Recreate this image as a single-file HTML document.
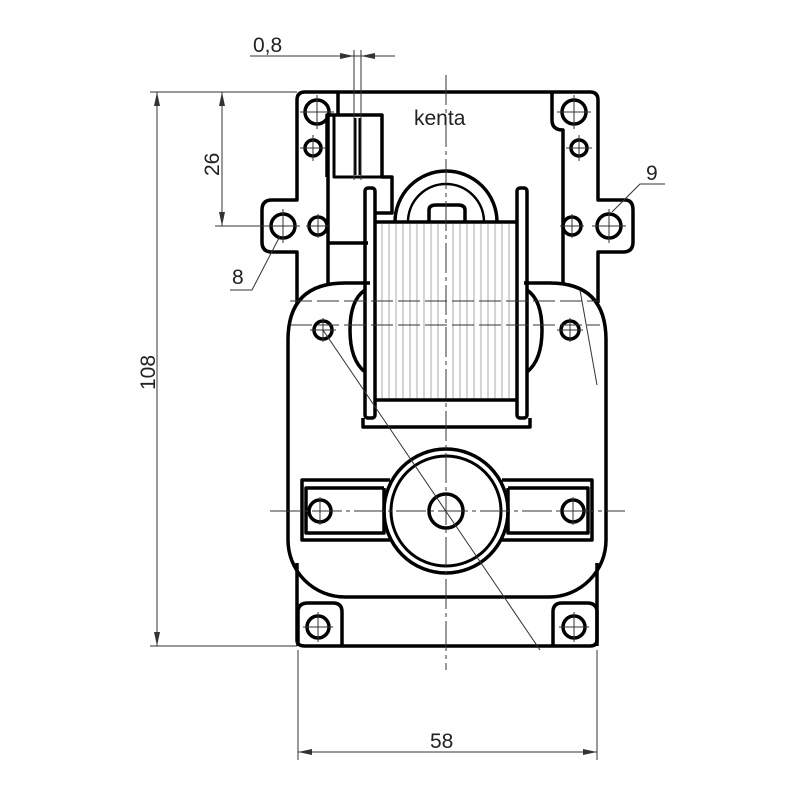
<!DOCTYPE html>
<html><head><style>body{margin:0;background:#fff}svg{display:block}</style></head><body>
<svg width="800" height="800" viewBox="0 0 800 800" xmlns="http://www.w3.org/2000/svg" font-family="Liberation Sans, sans-serif">
<g fill="none" stroke="#000" stroke-width="3.5" stroke-linejoin="round">
<!-- top plate -->
<path d="M305 92 H590 Q598 92 598 100 V200 H625 Q633 200 633 210 V242 Q633 252 623 252 H598 V303"/>
<path d="M297 303 V252 H272 Q262 252 262 242 V210 Q262 200 272 200 H297 V100 Q297 92 305 92"/>
<path d="M338 92 V115"/>
<path d="M552 92 V120 Q552 130 563 130 V283"/>
<path d="M328 115 V283"/>
<!-- connector -->
<path d="M327 177 V115 H382 V177 H392 V213 H375"/>
<path d="M334 115 V177 H382" stroke-width="3"/>
<path d="M355 118 V175 M360 118 V175" stroke-width="3"/>
<path d="M328 243 H368"/>
<!-- holes top -->
<circle cx="317" cy="112" r="12"/><circle cx="574" cy="112" r="12"/>
<circle cx="313" cy="148" r="8"/><circle cx="579" cy="148" r="8"/>
<circle cx="283" cy="226" r="12"/><circle cx="318" cy="226" r="9"/>
<circle cx="572" cy="226" r="9"/><circle cx="609" cy="226" r="12"/>
<!-- housing -->
<path d="M288 540 V340 Q288 283 345 283 H370 M524 283 H550 Q606 283 606 340 V540 A57 57 0 0 1 549 597 H345 A57 57 0 0 1 288 540"/>
<path d="M297 563 V640 Q297 646 305 646 H590 Q597 646 597 640 V563"/>
<path d="M298 646 V612 Q298 603 308 603 H333 Q342 603 342 612 V646 M597 646 V612 Q597 603 587 603 H562 Q553 603 553 612 V646"/>
<circle cx="318" cy="627" r="11"/><circle cx="574" cy="627" r="11"/>
<path d="M365 290 Q350 300 350 330 Q350 360 365 372 M527 290 Q542 300 542 330 Q542 360 527 372"/>
<circle cx="323" cy="330" r="9"/><circle cx="570" cy="330" r="9"/>
<!-- coil -->
<rect x="365" y="188" width="10" height="230" rx="3"/><rect x="517" y="188" width="10" height="230" rx="3"/>
<path d="M376 222 H517 M376 400 H517"/>
<path d="M363 418 V427 H530 V418"/>
<path d="M395 222 A51 51 0 0 1 497 222"/>
<path d="M408 222 A38 38 0 0 1 484 222" stroke-width="2.5"/>
<path d="M429 221 V210 Q429 205 436 205 H458 Q465 205 465 210 V221"/>
<!-- gear center -->
<circle cx="446" cy="511" r="62"/><circle cx="446" cy="511" r="55" stroke-width="3"/>
<circle cx="446" cy="511" r="17"/>
<path d="M390 480 H302 V540 H390 M384 488 H306 V533 H384 V488"/>
<path d="M502 480 H592 V540 H502 M508 488 H588 V533 H508 V488"/>
<circle cx="320" cy="511" r="11"/><circle cx="573" cy="511" r="11"/>
</g>
<!-- coil windings -->
<g stroke="#aaa" stroke-width="1">
<path d="M382 224V398M389 224V398M396 224V398M403 224V398M410 224V398M417 224V398M424 224V398M431 224V398M438 224V398M453 224V398M460 224V398M467 224V398M474 224V398M481 224V398M488 224V398M495 224V398M502 224V398M509 224V398"/>
</g>
<!-- thin lines -->
<g stroke="#333" stroke-width="1" fill="none">
<path d="M446 75 V670" stroke-dasharray="30 4 4 4"/>
<path d="M290 301 H600 M290 325 H600" stroke-dasharray="22 5"/>
<path d="M270 511 H625" stroke-dasharray="30 4 4 4"/>
<path d="M323 330 L540 650 M580 290 L597 385"/>
<path d="M150 92 H297 M150 646 H297 M157 92 V646 M215 226 H270 M222 92 V226"/>
<path d="M250 56 H395 M354 50 V180 M361 50 V180"/>
<path d="M298 650 V760 M597 650 V760 M298 752 H597"/>
<path d="M230 290 H252 L280 236 M665 184 H640 L612 212"/>
<path d="M300 112h34M317 95v34M557 112h34M574 95v34M300 148h26M313 135v26M566 148h26M579 135v26M266 226h34M283 209v34M306 226h24M318 214v24M560 226h24M572 214v24M592 226h34M609 209v34M310 330h26M323 318v24M557 330h26M570 318v24M303 627h30M318 612v30M559 627h30M574 612v30M320 497v28M573 497v28"/>
</g>
<g fill="#333">
<path d="M157 92 l-3 14 h6z M157 646 l-3 -14 h6z M222 92 l-3 14 h6z M222 226 l-3 -14 h6z M354 56 l-14 -3 v6z M361 56 l14 -3 v6z M298 752 l14 -3 v6z M597 752 l-14 -3 v6z"/>
</g>
<g font-size="21" fill="#222">
<text x="253" y="52">0,8</text>
<text x="414" y="125">kenta</text>
<text x="430" y="748">58</text>
<text x="232" y="284">8</text>
<text x="646" y="180">9</text>
<text transform="translate(155,390) rotate(-90)">108</text>
<text transform="translate(219,176) rotate(-90)">26</text>
</g>
</svg>
</body></html>
